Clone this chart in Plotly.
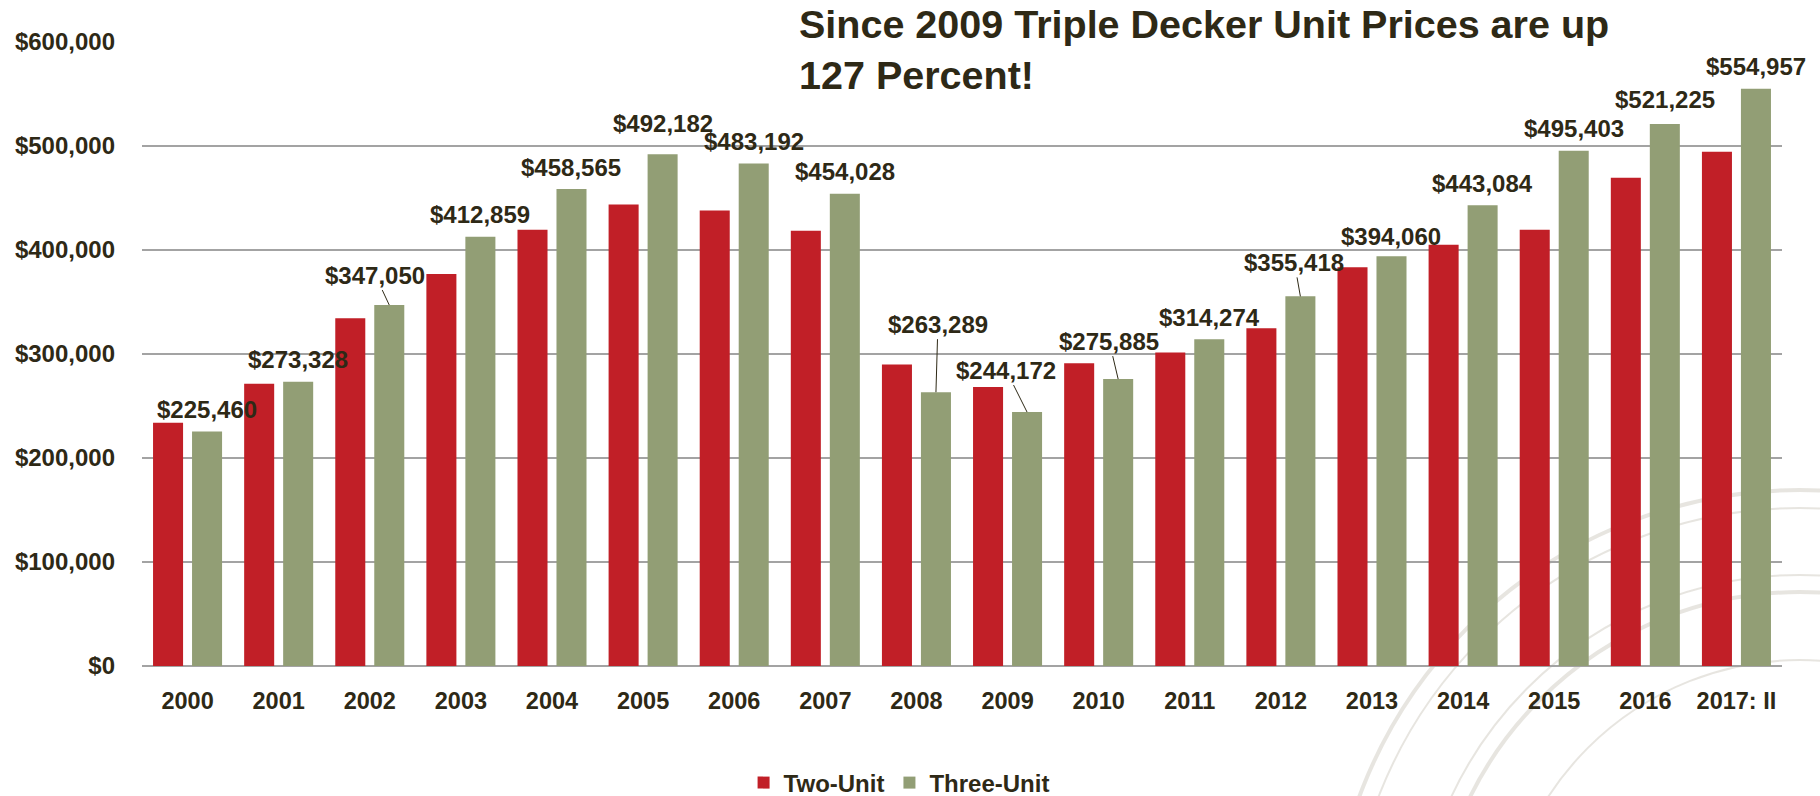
import plotly.graph_objects as go

# Median unit prices by year, two-family vs three-family ("triple decker") homes
years = ["2000", "2001", "2002", "2003", "2004", "2005", "2006", "2007", "2008",
         "2009", "2010", "2011", "2012", "2013", "2014", "2015", "2016", "2017: II"]
two_unit = [233900, 271400, 334400, 377000, 419500, 443800, 438100, 418600, 289900,
            268200, 291200, 301400, 324800, 383400, 405100, 419500, 469400, 494400]
three_unit = [225460, 273328, 347050, 412859, 458565, 492182, 483192, 454028, 263289,
              244172, 275885, 314274, 355418, 394060, 443084, 495403, 521225, 554957]
y_ticks = [0, 100000, 200000, 300000, 400000, 500000, 600000]

# ---- styling / geometry -------------------------------------------------
W, H = 1820, 796
M_L, M_R, M_T, M_B = 142, 38, 42, 130
BARGAP, GROUPGAP = 0.144, 0.23
RED, GREEN = "#C11F27", "#929E75"
INK = "#2E2916"
GRID = "#A3A3A3"
FONT = "Liberation Sans, Arial, sans-serif"

cat_px = (W - M_L - M_R) / len(years)
green_shift = (1 - BARGAP) * cat_px / 4  # centre of the second bar in each group

# label placement: leader-line labels (dx, dy from bar top) and lifted labels
leader = {"2002": (-14, -30), "2008": (2, -68), "2009": (-21, -42),
          "2010": (-9, -38), "2012": (-6, -34)}
lift = {"2005": 31, "2013": 20, "2016": 24}

fig = go.Figure()
fig.add_trace(go.Bar(name="Two-Unit", x=years, y=two_unit,
                     marker=dict(color=RED, line=dict(width=0))))
fig.add_trace(go.Bar(name="Three-Unit", x=years, y=three_unit,
                     marker=dict(color=GREEN, line=dict(width=0))))

label_font = dict(family=FONT, size=24, color=INK, weight="bold")
for i, (yr, v) in enumerate(zip(years, three_unit)):
    txt = f"${v:,}"
    # category axes take the position index for annotations
    if yr in leader:
        dx, dy = leader[yr]
        fig.add_annotation(x=i, y=v, text=txt, xshift=green_shift,
                           showarrow=True, arrowhead=0, arrowwidth=1,
                           arrowcolor=INK, ax=dx, ay=dy, standoff=0,
                           font=label_font)
    else:
        fig.add_annotation(x=i, y=v, text=txt, xshift=green_shift,
                           yshift=lift.get(yr, 22), yanchor="middle",
                           showarrow=False, font=label_font)

# faint seal watermark in the lower right corner
def px_to_paper(px, py):
    return (px - M_L) / (W - M_L - M_R), (H - M_B - py) / (H - M_T - M_B)

seal_cx, seal_cy = 1800, 960
for r, wdt in [(470, 4), (452, 2), (385, 2), (368, 4), (300, 2)]:
    x0, y0 = px_to_paper(seal_cx - r, seal_cy + r)
    x1, y1 = px_to_paper(seal_cx + r, seal_cy - r)
    fig.add_shape(type="circle", xref="paper", yref="paper",
                  x0=x0, y0=y0, x1=x1, y1=y1, layer="below",
                  line=dict(color="rgba(175,168,152,0.3)", width=wdt))

fig.update_layout(
    width=W, height=H,
    margin=dict(l=M_L, r=M_R, t=M_T, b=M_B, pad=0),
    paper_bgcolor="white", plot_bgcolor="rgba(0,0,0,0)",
    barmode="group", bargap=BARGAP, bargroupgap=GROUPGAP,
    font=dict(family=FONT, color=INK),
    title=dict(text="Since 2009 Triple Decker Unit Prices are up<br>127 Percent!",
               font=dict(family=FONT, size=39.5, color=INK, weight="bold"),
               x=799 / W, xanchor="left", xref="container",
               y=1 - 38 / H, yanchor="top", yref="container"),
    legend=dict(orientation="h", xref="container", yref="container",
                x=0.494, xanchor="center", y=13 / H, yanchor="middle",
                font=dict(family=FONT, size=24, color=INK, weight="bold"),
                bgcolor="rgba(0,0,0,0)", itemclick=False),
    showlegend=True,
)
fig.update_xaxes(type="category", categoryorder="array", categoryarray=years,
                 range=[-0.5, len(years) - 0.5],
                 showgrid=False, showline=False, ticks="",
                 tickfont=dict(family=FONT, size=23.5, color=INK, weight="bold"),
                 ticklabelstandoff=18)
fig.update_yaxes(range=[0, 600000], tickmode="array", tickvals=y_ticks,
                 ticktext=[f"${v:,}" for v in y_ticks],
                 showgrid=True, gridcolor=GRID, gridwidth=2,
                 zeroline=True, zerolinecolor=GRID, zerolinewidth=2,
                 showline=False, ticks="",
                 tickfont=dict(family=FONT, size=24, color=INK, weight="bold"),
                 ticklabelstandoff=26)

fig.write_html("out.html")
